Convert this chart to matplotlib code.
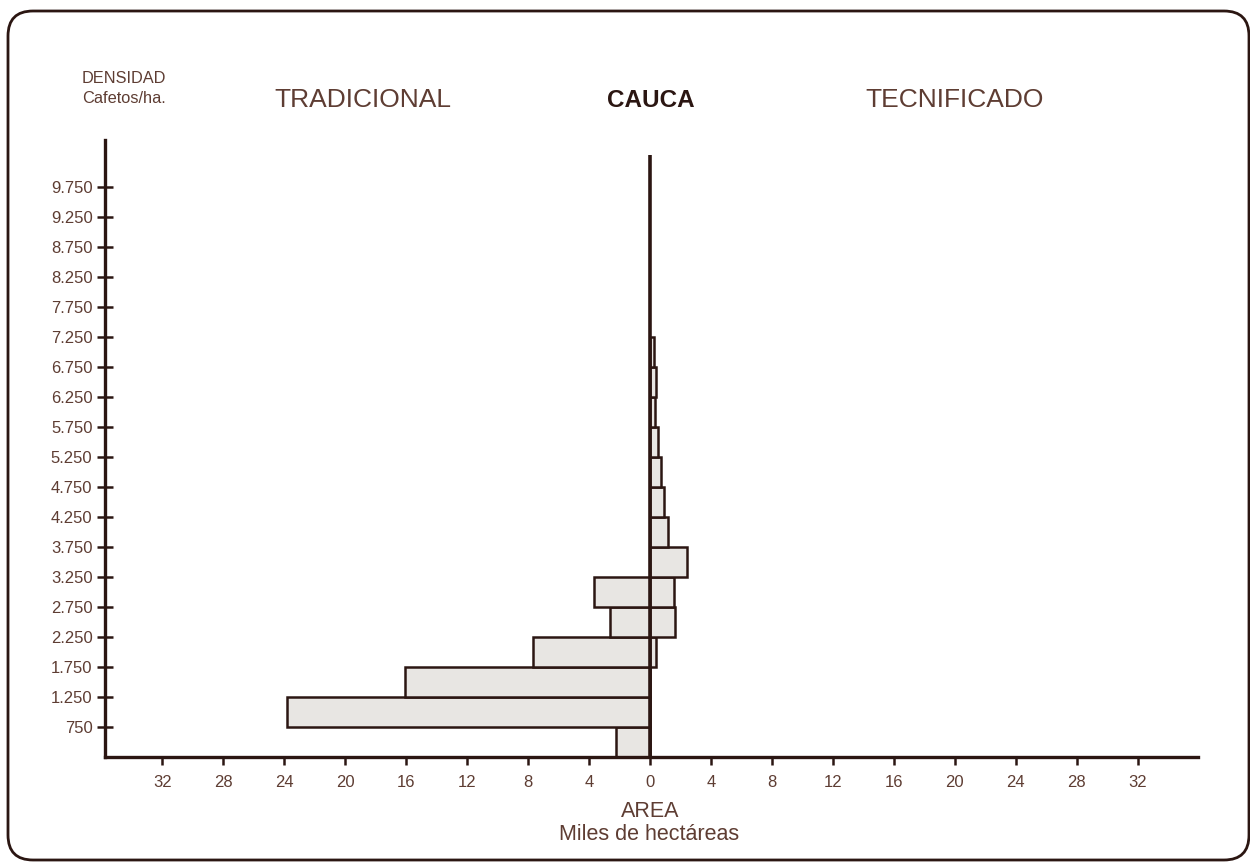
import numpy as np
import matplotlib
matplotlib.use('Agg')
import matplotlib.pyplot as plt
from matplotlib.patches import FancyBboxPatch

plt.rcParams['font.family'] = ['Liberation Sans', 'DejaVu Sans']

# density bins (cafetos/ha): lower edge of each 500-wide class
bin_lower = [250, 750, 1250, 1750, 2250, 2750, 3250, 3750, 4250, 4750, 5250, 5750, 6250, 6750]
bin_width = 500
# area in thousands of hectares
tradicional = [2.2, 23.8, 16.1, 7.7, 2.6, 3.7, 0, 0, 0, 0, 0, 0, 0, 0]
tecnificado = [0, 0, 0, 0.4, 1.65, 1.6, 2.45, 1.2, 0.95, 0.75, 0.5, 0.33, 0.37, 0.26]

y_ticks = [750, 1250, 1750, 2250, 2750, 3250, 3750, 4250, 4750, 5250,
           5750, 6250, 6750, 7250, 7750, 8250, 8750, 9250, 9750]
y_labels = ['750', '1.250', '1.750', '2.250', '2.750', '3.250', '3.750', '4.250', '4.750', '5.250',
            '5.750', '6.250', '6.750', '7.250', '7.750', '8.250', '8.750', '9.250', '9.750']
x_ticks = [-32, -28, -24, -20, -16, -12, -8, -4, 0, 4, 8, 12, 16, 20, 24, 28, 32]

ink = '#2b1612'
txt = '#5e3d33'
fill = '#e8e6e3'

fig = plt.figure(figsize=(12.5, 8.63), dpi=100)
fig.patch.set_facecolor('white')

# rounded frame
frame = FancyBboxPatch((0.08, 0.03), 12.41, 8.49, boxstyle='round,pad=0,rounding_size=0.25',
                       transform=fig.dpi_scale_trans, fill=False, edgecolor=ink, linewidth=2.0)
fig.patches.append(frame)

ax = fig.add_axes([0.084, 0.1228, 0.8744, 0.715])
ax.set_xlim(-35.76, 35.96)
ax.set_ylim(250, 10533)

ax.barh(bin_lower, -np.array(tradicional), height=bin_width, align='edge',
        color=fill, edgecolor=ink, linewidth=1.8, zorder=2)
ax.barh(bin_lower, tecnificado, height=bin_width, align='edge',
        color=fill, edgecolor=ink, linewidth=1.8, zorder=2)
ax.vlines(0, 250, 10283, color=ink, linewidth=2.6, zorder=3)

for s in ['top', 'right']:
    ax.spines[s].set_visible(False)
for s in ['left', 'bottom']:
    ax.spines[s].set_linewidth(2.4)
    ax.spines[s].set_color(ink)

ax.set_yticks(y_ticks)
ax.set_yticklabels(y_labels)
ax.set_xticks(x_ticks)
ax.set_xticklabels([str(abs(v)) for v in x_ticks])
ax.tick_params(axis='y', direction='inout', length=12, width=1.8, color=ink,
               labelcolor=txt, labelsize=12, pad=3)
ax.tick_params(axis='x', direction='out', length=6, width=1.8, color=ink,
               labelcolor=txt, labelsize=12, pad=7)

fig.text(0.0656, 0.9096, 'DENSIDAD', color=txt, fontsize=11.8, ha='left', va='center')
fig.text(0.0656, 0.8853, 'Cafetos/ha.', color=txt, fontsize=11.8, ha='left', va='center')
fig.text(0.2904, 0.8841, 'TRADICIONAL', color=txt, fontsize=19, ha='center', va='center')
fig.text(0.5208, 0.8841, 'CAUCA', color=ink, fontsize=17.5, fontweight='bold', ha='center', va='center')
fig.text(0.764, 0.8841, 'TECNIFICADO', color=txt, fontsize=19, ha='center', va='center')
fig.text(0.52, 0.0591, 'AREA', color=txt, fontsize=15.5, ha='center', va='center')
fig.text(0.519, 0.0336, 'Miles de hectáreas', color=txt, fontsize=15.5, ha='center', va='center')

fig.savefig('out.png', dpi=100, facecolor='white')
